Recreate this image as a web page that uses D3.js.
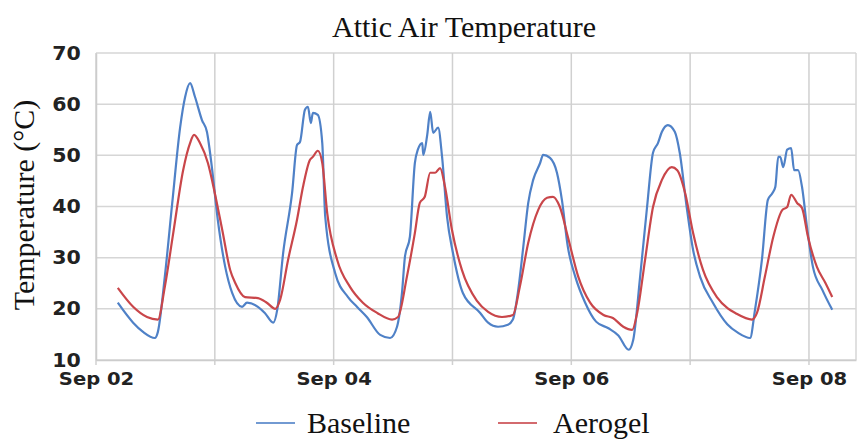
<!DOCTYPE html>
<html>
<head>
<meta charset="utf-8"/>
<script src="https://d3js.org/d3.v7.min.js"></script>
<style>
  body { margin: 0; background: #fff; }
  .tick text { font-family: "DejaVu Sans", Verdana, sans-serif; font-weight: bold; fill: #222; }
  .serif { font-family: "Liberation Serif", "Times New Roman", serif; fill: #111; }
</style>
</head>
<body>
<script>
// hours since Sep 02 00:00 and temperatures (°C)
var baselineHours = [4.4, 7.5, 9.5, 11.9, 12.5, 13.9, 15.4, 17.0, 18.0, 19.0, 20.0, 21.4, 22.4, 23.4, 24.6, 26.1, 27.5, 29.5, 30.5, 32.7,
  34.1, 35.8, 36.6, 37.8, 39.6, 40.6, 41.2, 42.2, 42.8, 43.4, 43.8, 44.8, 45.7, 46.3, 48.3, 50.9, 52.7, 54.7, 57.4, 59.4,
  60.8, 61.8, 62.4, 63.4, 64.4, 65.0, 65.9, 66.1, 66.9, 67.5, 68.1, 69.1, 69.9, 70.9, 72.1, 74.1, 77.6, 79.2, 81.2, 83.2,
  84.2, 85.2, 86.3, 87.3, 88.3, 89.7, 90.3, 91.7, 93.1, 94.1, 95.3, 96.8, 98.8, 101.0, 103.5, 105.5, 107.6, 108.5, 109.9, 111.3,
  112.5, 113.5, 114.3, 115.5, 116.9, 117.9, 119.3, 120.6, 122.0, 124.6, 127.5, 129.7, 132.1, 133.1, 134.5, 135.7, 136.6, 137.2, 137.8, 138.2,
  138.8, 139.6, 140.4, 141.0, 141.8, 142.6, 143.6, 144.8, 146.7, 148.7];
var baselineTemps = [21.2, 17.3, 15.5, 14.3, 15.5, 26.3, 40.7, 55.5, 61.4, 64.1, 61.4, 56.9, 54.6, 47.7, 37.4, 28.2, 23.1, 20.4, 21.2, 20.4,
  19.2, 17.3, 19.8, 30.9, 42.6, 52.0, 52.6, 58.9, 59.5, 56.3, 58.3, 57.9, 52.4, 38.0, 27.0, 22.3, 20.4, 18.4, 14.9, 14.3,
  16.5, 23.1, 30.2, 34.1, 48.5, 51.1, 52.4, 50.1, 54.0, 58.5, 54.4, 55.4, 49.7, 38.0, 30.9, 23.1, 19.2, 17.3, 16.5, 16.9,
  17.9, 23.1, 32.1, 40.7, 45.2, 48.5, 50.1, 49.5, 46.6, 41.3, 32.1, 26.3, 21.2, 17.5, 16.2, 14.8, 12.0, 13.9, 26.3, 39.9,
  50.5, 52.4, 54.6, 55.9, 54.6, 50.5, 39.9, 31.5, 26.3, 21.2, 17.0, 15.3, 14.3, 19.8, 29.6, 41.3, 42.6, 43.8, 49.7, 49.7,
  47.7, 51.1, 51.4, 47.1, 47.1, 43.8, 36.0, 28.2, 23.7, 19.8];

var aerogelHours = [4.4, 7.5, 10.3, 12.5, 13.9, 15.6, 17.6, 19.0, 19.8, 21.0, 22.6, 24.0, 25.5, 27.1, 28.1, 30.1, 32.7, 34.5, 36.2, 37.2,
  38.8, 40.6, 41.8, 43.2, 43.8, 44.8, 45.7, 46.7, 48.7, 51.3, 53.9, 56.8, 59.8, 61.0, 62.8, 64.4, 65.4, 66.4, 67.5, 68.5,
  69.5, 70.5, 71.9, 73.9, 76.9, 79.2, 82.0, 84.2, 85.6, 87.3, 89.3, 91.1, 92.3, 93.7, 95.3, 97.4, 99.8, 102.5, 104.4, 106.5,
  108.3, 109.3, 110.9, 112.5, 114.3, 116.3, 117.4, 119.0, 120.6, 122.6, 125.4, 127.6, 129.1, 132.5, 133.5, 135.1, 136.8, 138.6, 139.6, 140.4,
  141.6, 142.6, 143.8, 145.6, 147.3, 148.7];
var aerogelTemps = [24.1, 20.4, 18.4, 17.9, 24.3, 34.8, 47.1, 52.4, 54.0, 52.4, 48.5, 42.6, 35.4, 27.6, 25.1, 22.3, 22.1, 21.2, 20.0, 21.8,
  29.6, 37.4, 43.8, 49.1, 49.7, 50.9, 48.5, 38.7, 29.6, 24.3, 21.2, 19.2, 17.9, 18.4, 26.3, 34.8, 40.7, 41.9, 46.6, 46.6,
  47.5, 43.8, 35.4, 27.6, 21.6, 19.4, 18.4, 18.8, 24.3, 32.9, 39.3, 41.7, 41.9, 39.9, 34.1, 26.3, 21.2, 18.8, 18.2, 16.5,
  15.9, 19.2, 29.6, 39.9, 45.2, 47.7, 47.1, 42.6, 34.8, 27.6, 22.3, 20.1, 19.2, 17.9, 19.2, 26.3, 34.1, 39.3, 39.9, 42.3,
  40.7, 39.7, 34.1, 28.2, 25.1, 22.3];

var yTicks = [10, 20, 30, 40, 50, 60, 70];
var seriesNames = ["Baseline", "Aerogel"];
var seriesColors = ["#4f81c7", "#c9464a"];

var width = 859, height = 439;
var margin = {left: 96, top: 53, right: 3, bottom: 79};
var start = new Date(Date.UTC(2015, 8, 2));
var end = new Date(start.getTime() + 153.5 * 3600e3);

function toDate(h) { return new Date(start.getTime() + h * 3600e3); }

var svg = d3.select("body").append("svg").attr("width", width).attr("height", height);

var x = d3.scaleUtc().domain([start, end]).range([margin.left, width - margin.right]);
var y = d3.scaleLinear().domain([10, 70]).range([height - margin.bottom, margin.top]);

var days = d3.utcDay.range(start, end);

// grid
svg.append("g").selectAll("line").data(yTicks).enter().append("line")
  .attr("x1", margin.left).attr("x2", width - margin.right)
  .attr("y1", function(d) { return y(d); }).attr("y2", function(d) { return y(d); })
  .attr("stroke", "#d6d6d6").attr("stroke-width", 1.5);
svg.append("g").selectAll("line").data(days).enter().append("line")
  .attr("x1", function(d) { return x(d); }).attr("x2", function(d) { return x(d); })
  .attr("y1", margin.top).attr("y2", y(10) + 5)
  .attr("stroke", "#d0d0d0").attr("stroke-width", 1.5);
svg.append("line").attr("x1", width - margin.right).attr("x2", width - margin.right)
  .attr("y1", margin.top).attr("y2", y(10)).attr("stroke", "#d6d6d6").attr("stroke-width", 1.5);

// axes
var xAxis = d3.axisBottom(x).tickValues(days.filter(function(d, i) { return i % 2 === 0; }))
  .tickFormat(d3.utcFormat("%b %d")).tickSize(0);
var gx = svg.append("g").attr("transform", "translate(0," + y(10) + ")").call(xAxis);
gx.select(".domain").attr("stroke", "#cccccc").attr("stroke-width", 1.5);
gx.selectAll("text").attr("y", 25).attr("dy", 0).style("font-size", "17px")
  .attr("transform", "scale(1.15,1)");

var yAxis = d3.axisLeft(y).tickValues(yTicks).tickSize(0).tickPadding(14);
var gy = svg.append("g").attr("transform", "translate(" + margin.left + ",0)").call(yAxis);
gy.select(".domain").attr("stroke", "#cccccc").attr("stroke-width", 1.5);
gy.selectAll("text").style("font-size", "19px").attr("transform", "scale(1.08,1)");

// lines
var line = d3.line()
  .x(function(d) { return x(toDate(d[0])); })
  .y(function(d) { return y(d[1]); })
  .curve(d3.curveMonotoneX);

var series = [d3.zip(baselineHours, baselineTemps), d3.zip(aerogelHours, aerogelTemps)];
svg.selectAll("path.series").data(series).enter().append("path")
  .attr("class", "series")
  .attr("d", line)
  .attr("fill", "none")
  .attr("stroke", function(d, i) { return seriesColors[i]; })
  .attr("stroke-width", 2.2)
  .attr("stroke-linejoin", "round");

// title and labels
svg.append("text").attr("class", "serif").attr("x", 464).attr("y", 37)
  .attr("text-anchor", "middle").style("font-size", "30px").text("Attic Air Temperature");
svg.append("text").attr("class", "serif")
  .attr("transform", "translate(34,205) rotate(-90)")
  .attr("text-anchor", "middle").style("font-size", "30px").text("Temperature (°C)");

// legend
var legendX = [256, 498];
var lg = svg.selectAll("g.legend").data(seriesNames).enter().append("g")
  .attr("class", "legend")
  .attr("transform", function(d, i) { return "translate(" + legendX[i] + ",423)"; });
lg.append("line").attr("x1", 0).attr("x2", 39)
  .attr("stroke", function(d, i) { return seriesColors[i]; }).attr("stroke-width", 2).attr("opacity", 0.8);
lg.append("text").attr("class", "serif").attr("x", function(d, i) { return i ? 55 : 51; }).attr("y", 10)
  .style("font-size", "30px").text(function(d) { return d; });
</script>
</body>
</html>
